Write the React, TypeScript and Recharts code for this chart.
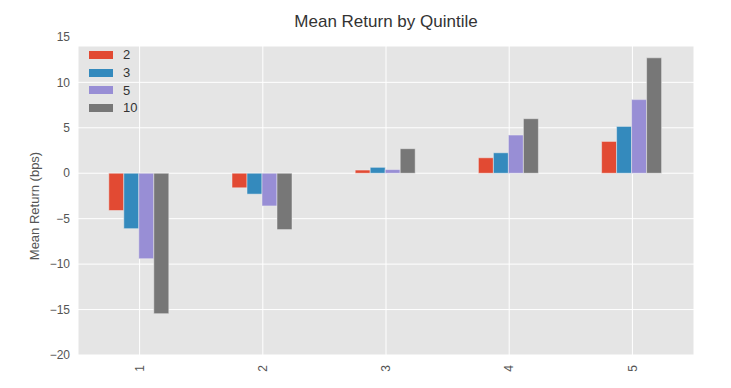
import React from "react";
import { BarChart, Bar, XAxis, YAxis, CartesianGrid } from "recharts";

const quintiles = ["1", "2", "3", "4", "5"];
const periods = ["2", "3", "5", "10"];
const colors = ["#E24A33", "#348ABD", "#988ED5", "#777777"];

const ret2 = [-4.1, -1.6, 0.35, 1.7, 3.5];
const ret3 = [-6.1, -2.3, 0.65, 2.25, 5.15];
const ret5 = [-9.4, -3.6, 0.4, 4.2, 8.1];
const ret10 = [-15.45, -6.2, 2.7, 6.0, 12.7];

const yTicks = [-20, -15, -10, -5, 0, 5, 10, 15];

const series = [ret2, ret3, ret5, ret10];

const data = quintiles.map((q, i) => {
  const row: Record<string, string | number> = { quintile: q };
  periods.forEach((p, j) => {
    row["p" + p] = series[j][i];
  });
  return row;
});

const font = "'Liberation Sans', Arial, sans-serif";

const fmt = (v: number) => (v < 0 ? "\u2212" + Math.abs(v) : String(v));

function XTick(props: any) {
  const { x, y, payload } = props;
  return (
    <g transform={`translate(${x},${y})`}>
      <text
        transform="rotate(-90)"
        x={-2}
        dy="0.35em"
        textAnchor="end"
        fill="#555"
        fontSize={12}
        fontFamily={font}
      >
        {payload.value}
      </text>
    </g>
  );
}

export default function App() {
  return (
    <div
      style={{
        position: "fixed",
        left: 0,
        top: 0,
        width: 731,
        height: 388,
        background: "#fff",
        fontFamily: font,
      }}
    >
      <div
        style={{
          position: "absolute",
          left: 78,
          width: 616,
          top: 12,
          textAlign: "center",
          fontSize: 17,
          color: "#333",
        }}
      >
        Mean Return by Quintile
      </div>
      <div
        style={{
          position: "absolute",
          left: 34,
          top: 206,
          transform: "translate(-50%, -50%) rotate(-90deg)",
          whiteSpace: "nowrap",
          fontSize: 13,
          color: "#555",
        }}
      >
        Mean Return (bps)
      </div>
      <BarChart
        width={731}
        height={388}
        data={data}
        margin={{ top: 46, right: 37, bottom: 3, left: 0 }}
        barCategoryGap="25%"
        barGap={0}
      >
        <CartesianGrid stroke="#ffffff" strokeWidth={1} fill="#E5E5E5" />
        <XAxis
          dataKey="quintile"
          axisLine={false}
          tickLine={false}
          height={30}
          tick={<XTick />}
        />
        <YAxis
          width={78}
          domain={[-20, 14]}
          ticks={yTicks}
          interval={0}
          allowDataOverflow
          axisLine={false}
          tickLine={false}
          tickFormatter={fmt}
          tick={{ fill: "#555", fontSize: 12, fontFamily: font }}
        />
        {periods.map((p, j) => (
          <Bar
            key={p}
            dataKey={"p" + p}
            fill={colors[j]}
            stroke="#EEEEEE"
            strokeWidth={0.5}
            isAnimationActive={false}
          />
        ))}
      </BarChart>
      <div style={{ position: "absolute", left: 89, top: 46 }}>
        {periods.map((p, j) => (
          <div
            key={p}
            style={{ display: "flex", alignItems: "center", height: 17.7 }}
          >
            <div
              style={{
                width: 24,
                height: 8,
                background: colors[j],
                marginRight: 10,
              }}
            />
            <span style={{ fontSize: 13, color: "#333" }}>{p}</span>
          </div>
        ))}
      </div>
    </div>
  );
}
